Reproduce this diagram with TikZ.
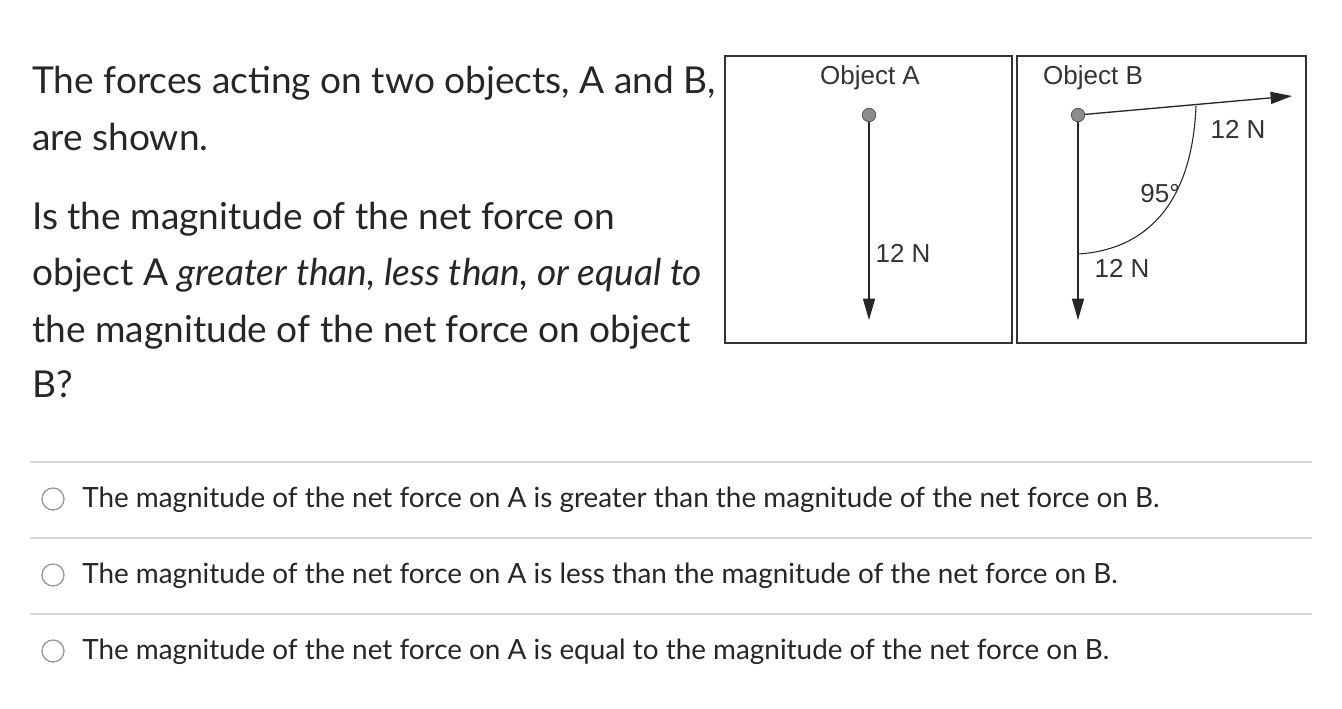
\documentclass[tikz,border=0pt]{standalone}
\usepackage{fontspec}
\setmainfont{Lato}
\newfontfamily\dfont{Liberation Sans}
\usetikzlibrary{arrows.meta}
\begin{document}
\begin{tikzpicture}[x=0.75pt,y=-0.75pt,
  q/.style={anchor=base west,inner sep=0,font=\fontsize{27.8}{32}\selectfont,text=black!85},
  opt/.style={anchor=west,inner sep=0,font=\fontsize{20.9}{25}\selectfont,text=black!85},
  lbl/.style={inner sep=0,font=\dfont\fontsize{19.5}{22}\selectfont,text=black!80},
  box/.style={draw=black!80,line width=1.4pt},
  force/.style={draw=black!85,line width=1pt,-{Triangle[length=16pt,width=9pt]}},
  dot/.style={circle,draw=black!70,fill=black!45,minimum size=10pt,inner sep=0},
  rad/.style={draw=black!40,line width=1pt,fill=white,circle,minimum size=16.5pt,inner sep=0},
  sep/.style={draw=black!15,line width=0.8pt}]
\useasboundingbox (0,0) rectangle (1342,708);
\node[q] (t1) at (32,93) {The forces acting on two objects, A and B,};
\node[q] (t2) at (32,150) {are shown.};
\node[q] (t3) at (32,229) {Is the magnitude of the net force on};
\node[q] (t4) at (32,285) {object A \textit{greater than, less than, or equal to}};
\node[q] (t5) at (32,342) {the magnitude of the net force on object};
\node[q] (t6) at (32,397) {B?};
% boxes
\node[box,minimum width=215pt,minimum height=215pt,inner sep=0] (bA) at (868.5,199.5) {};
\node[box,minimum width=216.5pt,minimum height=215pt,inner sep=0] (bB) at (1161.5,199.5) {};
\node[lbl] (oA) at (870,78) {Object A};
\node[lbl] (oB) at (1093,78) {Object B};
\node[dot] (dA) at (869,115) {};
\node[dot] (dB) at (1078,115) {};
\coordinate (eA) at (869,320);
\coordinate (eB) at (1078,320);
\coordinate (eR) at (1292,96);
\draw[force] (dA.center) -- (eA);
\draw[force] (dB.center) -- (eB);
\draw[force] (dB.center) -- (eR);
\node[dot] at (dA) {};
\node[dot] at (dB) {};
\coordinate (a1) at (1078,254);
\coordinate (a2) at (1196,106);
\draw[black!85,line width=0.8pt] (a1) .. controls (1145,250) and (1192,205) .. (a2);
\node[lbl] (ang) at (1160,194) {95°};
\node[lbl] (fA) at (903,253) {12 N};
\node[lbl] (fB) at (1122,268) {12 N};
\node[lbl] (fR) at (1238,129) {12 N};
% options
\coordinate (s1a) at (30,462); \coordinate (s1b) at (1312,462);
\coordinate (s2a) at (30,538); \coordinate (s2b) at (1312,538);
\coordinate (s3a) at (30,614); \coordinate (s3b) at (1312,614);
\draw[sep] (s1a) -- (s1b);
\draw[sep] (s2a) -- (s2b);
\draw[sep] (s3a) -- (s3b);
\node[rad] (r1) at (53,499) {};
\node[rad] (r2) at (53,575) {};
\node[rad] (r3) at (53,651) {};
\node[opt] (o1) at (82,500) {The magnitude of the net force on A is greater than the magnitude of the net force on B.};
\node[opt] (o2) at (82,576) {The magnitude of the net force on A is less than the magnitude of the net force on B.};
\node[opt] (o3) at (82,652) {The magnitude of the net force on A is equal to the magnitude of the net force on B.};
\end{tikzpicture}
\end{document}
